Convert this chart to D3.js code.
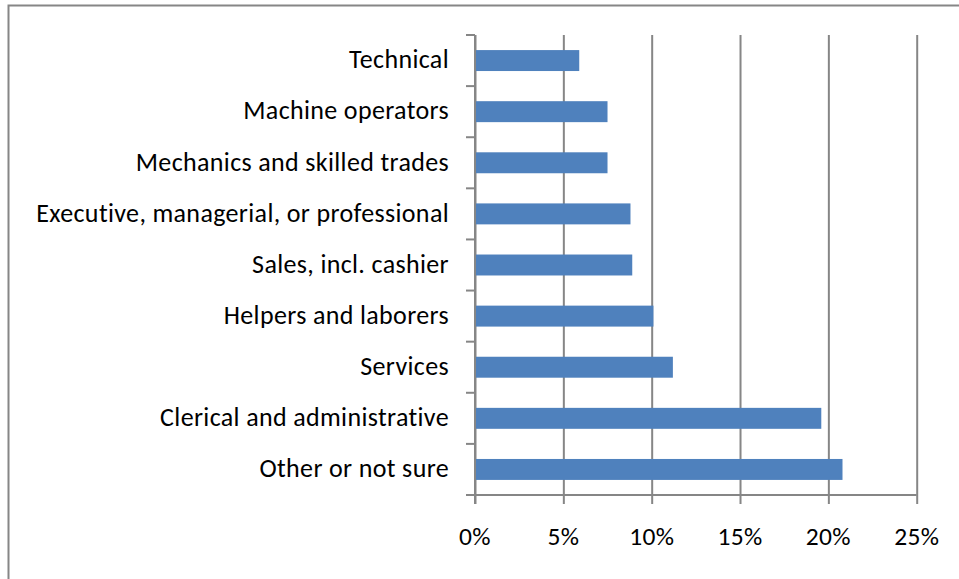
<!DOCTYPE html>
<html>
<head>
<meta charset="utf-8">
<script src="https://cdn.jsdelivr.net/npm/d3@7"></script>
<style>
  html, body { margin: 0; padding: 0; background: #fff; }
  svg { display: block; }
  text { font-family: Carlito, Calibri, Lato, "Noto Sans", sans-serif; fill: #000; }
</style>
</head>
<body>
<svg id="chart" width="959" height="579"></svg>
<script>
// Occupation categories, top to bottom
const categories = [
  "Technical",
  "Machine operators",
  "Mechanics and skilled trades",
  "Executive, managerial, or professional",
  "Sales, incl. cashier",
  "Helpers and laborers",
  "Services",
  "Clerical and administrative",
  "Other or not sure"
];
// Share of respondents per occupation (percent)
const shares = [5.9, 7.5, 7.5, 8.8, 8.9, 10.1, 11.2, 19.6, 20.8];
// Percent axis ticks
const tickValues = [0, 5, 10, 15, 20, 25];
const tickLabels = ["0%", "5%", "10%", "15%", "20%", "25%"];

const svg = d3.select("#chart");
const gridColor = "#868686";
const barColor = "#4F81BD";

const plot = { left: 475, right: 916.7, top: 35, bottom: 495 };

// Chart frame
svg.append("rect")
  .attr("x", 8.5).attr("y", 5.5)
  .attr("width", 1000).attr("height", 1000)
  .attr("fill", "none")
  .attr("stroke", gridColor)
  .attr("stroke-width", 2);

const x = d3.scaleLinear().domain([0, 25]).range([plot.left, plot.right]);
const y = d3.scaleBand().domain(categories)
  .range([plot.top, plot.bottom])
  .paddingInner(0.59).paddingOuter(0.295);

// Vertical gridlines with outward tick marks on the bottom
const xAxis = svg.append("g")
  .attr("transform", `translate(0,${plot.bottom})`)
  .call(d3.axisBottom(x).tickValues(tickValues).tickSize(9).tickFormat(""));
xAxis.select(".domain").remove();
xAxis.selectAll(".tick line")
  .attr("y1", -(plot.bottom - plot.top))
  .attr("y2", 9)
  .attr("stroke", gridColor).attr("stroke-width", 2);

// Tick labels
svg.append("g").selectAll("text")
  .data(tickValues)
  .join("text")
  .attr("x", d => x(d))
  .attr("y", 545)
  .attr("text-anchor", "middle")
  .attr("font-size", 25.5)
  .attr("letter-spacing", 0.3)
  .text((d, i) => tickLabels[i]);

// Bottom axis line
svg.append("line")
  .attr("x1", plot.left).attr("x2", plot.right)
  .attr("y1", plot.bottom).attr("y2", plot.bottom)
  .attr("stroke", gridColor).attr("stroke-width", 2);

// Bars
svg.append("g").selectAll("rect")
  .data(categories)
  .join("rect")
  .attr("x", x(0) + 1)
  .attr("y", d => y(d))
  .attr("width", (d, i) => x(shares[i]) - x(0) - 1)
  .attr("height", y.bandwidth())
  .attr("fill", barColor);

// Category axis line with ticks at band boundaries
const step = y.step();
const bounds = d3.range(categories.length + 1).map(i => plot.top + i * step);
svg.append("line")
  .attr("x1", plot.left).attr("x2", plot.left)
  .attr("y1", plot.top).attr("y2", plot.bottom + 9)
  .attr("stroke", gridColor).attr("stroke-width", 2);
svg.append("g").selectAll("line")
  .data(bounds)
  .join("line")
  .attr("x1", plot.left - 9).attr("x2", plot.left)
  .attr("y1", d => d).attr("y2", d => d)
  .attr("stroke", gridColor).attr("stroke-width", 2);

// Category labels
const yAxis = svg.append("g")
  .attr("transform", `translate(${plot.left},0)`)
  .call(d3.axisLeft(y).tickSize(0).tickPadding(26));
yAxis.select(".domain").remove();
yAxis.attr("font-family", null).attr("font-size", null);
yAxis.selectAll("text")
  .attr("font-size", 26)
  .attr("letter-spacing", 0.35)
  .attr("fill", "#000")
  .attr("dy", "0.3em");
</script>
</body>
</html>
